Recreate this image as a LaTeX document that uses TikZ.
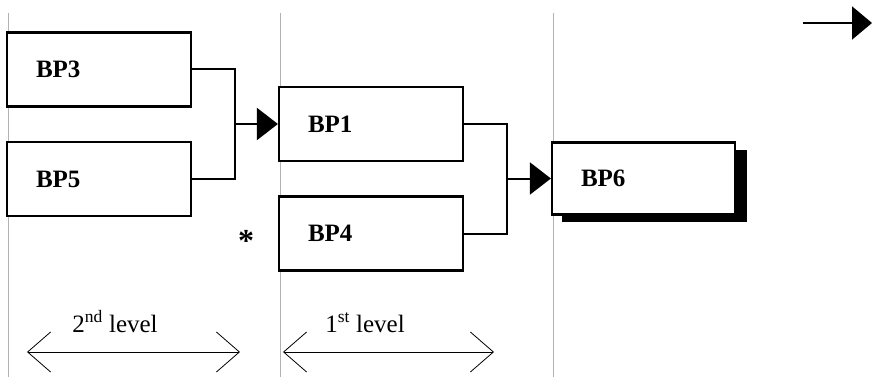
\documentclass[tikz,border=0pt]{standalone}
\usepackage{fontspec}
\setmainfont{Liberation Serif}
\usetikzlibrary{arrows.meta}
\begin{document}
\begin{tikzpicture}[x=1pt,y=-1pt,
  bpbox/.style={draw=black, line width=2.2pt, fill=white, minimum height=74pt,
    text width=126pt, inner xsep=29pt, inner ysep=0pt, align=left,
    font=\fontsize{25}{28}\selectfont\bfseries},
  link/.style={line width=2pt},
  feed/.style={line width=2pt, -{Triangle[length=21pt,width=32pt]}},
  guide/.style={gray!60, line width=0.7pt},
  span/.style={line width=0.8pt, {Straight Barb[length=23pt,width=40pt]}-{Straight Barb[length=23pt,width=40pt]}},
  levellabel/.style={anchor=base, font=\fontsize{25}{28}\selectfont}
]
\useasboundingbox (0,0) rectangle (872,377);

% column separators
\draw[guide] (8,13) -- (8,377);
\draw[guide] (280,13) -- (280,377);
\draw[guide] (553,13) -- (553,377);

% shadow behind the final step
\fill[black] (562,150) rectangle (747,222);

% steps
\node[bpbox] (bp3) at (99,69.5) {BP3};
\node[bpbox] (bp5) at (99,179) {BP5};
\node[bpbox] (bp1) at (371,124) {BP1};
\node[bpbox] (bp4) at (371,233.5) {BP4};
\node[bpbox, text width=125pt, minimum height=72pt] (bp6) at (643.5,178.5) {BP6};

% second level merge
\coordinate (j1) at (235,124);
\draw[link] (bp3.east) -| (j1) |- (bp5.east);
\draw[feed] (j1) -- (bp1.west);

% first level merge
\coordinate (j2) at (507,178.5);
\draw[link] (bp1.east) -| (j2) |- (bp4.east);
\draw[feed] (j2) -- (bp6.west);

% marker
\node[anchor=base, font=\fontsize{32}{36}\selectfont\bfseries] (star) at (246,251) {*};

% legend arrow
\coordinate (la) at (803,23);
\coordinate (lb) at (872,23);
\draw[line width=2pt, -{Triangle[length=20pt,width=33pt]}] (la) -- (lb);

% level spans
\coordinate (s2a) at (27,352);
\coordinate (s2b) at (240,352);
\coordinate (s1a) at (283,352);
\coordinate (s1b) at (494,352);
\draw[span] (s2a) -- (s2b);
\draw[span] (s1a) -- (s1b);
\node[levellabel] (lv2) at (115,332) {2\textsuperscript{nd} level};
\node[levellabel] (lv1) at (365,332) {1\textsuperscript{st} level};
\end{tikzpicture}
\end{document}
